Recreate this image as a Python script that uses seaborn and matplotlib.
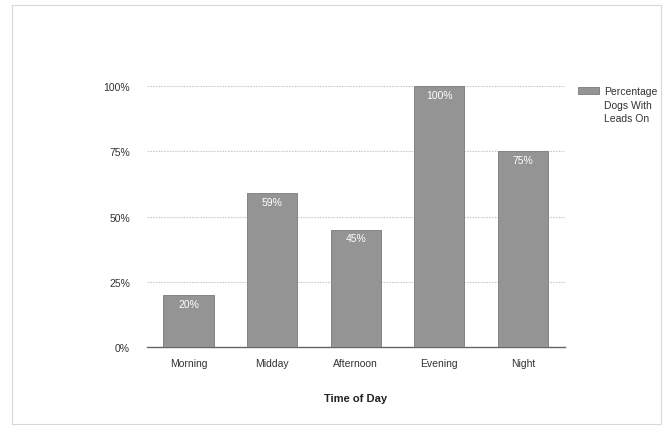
from matplotlib import pyplot as plt
from matplotlib.patches import Rectangle
from matplotlib.container import BarContainer
from matplotlib.legend_handler import HandlerPatch
import pandas as pd
import seaborn as sns

# data
times = ["Morning", "Midday", "Afternoon", "Evening", "Night"]
percent_leads = [20, 59, 45, 100, 75]
y_ticks = [0, 25, 50, 75, 100]

df = pd.DataFrame({"Time of Day": times, "Percentage Dogs With Leads On": percent_leads})

sns.set_theme(style="white")
plt.rcParams['font.family'] = ['Liberation Sans', 'DejaVu Sans']

fig = plt.figure(figsize=(6.7, 4.27), dpi=100)
fig.patch.set_facecolor("white")
ax = fig.add_axes([0.219, 0.185, 0.624, 0.611])

sns.barplot(ax=ax, data=df, x="Time of Day", y="Percentage Dogs With Leads On",
            color="#949494", saturation=1, width=0.6, edgecolor="#7a7a7a", linewidth=0.6,
            label="Percentage\nDogs With\nLeads On", zorder=3)

# value labels inside the bars
for c in ax.containers:
    ax.bar_label(c, labels=[f"{v}%" for v in percent_leads], label_type="edge",
                 padding=-10, color="white", fontsize=7.5)

ax.set_xlim(-0.5, 4.5)
ax.set_ylim(0, 100)
ax.set_yticks(y_ticks)
ax.set_yticklabels([f"{t}%" for t in y_ticks])
ax.yaxis.grid(True, color="#cccccc", linestyle=(0, (1.5, 1)), linewidth=0.8, zorder=0)
ax.tick_params(axis="both", length=0, labelsize=7.5, colors="#333333", pad=8)
ax.tick_params(axis="y", pad=12)
for s in ["top", "right", "left"]:
    ax.spines[s].set_visible(False)
ax.spines["bottom"].set_color("#666666")
ax.spines["bottom"].set_linewidth(1.0)
ax.set_ylabel("")
ax.set_xlabel("Time of Day", fontsize=8, fontweight="bold", labelpad=18, color="#222222")


# legend swatch sits next to the first line of the label
def top_swatch(legend, orig_handle, xdescent, ydescent, width, height, fontsize):
    return Rectangle((-xdescent, -ydescent + 10.5), width, height)


def first_bar(legend_handle, orig_handle):
    legend_handle.update_from(orig_handle.patches[0])


leg = ax.legend(loc="upper left", bbox_to_anchor=(1.031, 1.0), frameon=False, fontsize=7.5,
                borderpad=0, borderaxespad=0, handlelength=2.0, handleheight=0.8,
                handletextpad=0.5, labelcolor="#333333",
                handler_map={BarContainer: HandlerPatch(patch_func=top_swatch,
                                                        update_func=first_bar)})
leg.get_texts()[0].set_linespacing(1.45)

# light frame around the chart image
fig.patches.append(Rectangle((0.018, 0.005), 0.968, 0.982, transform=fig.transFigure,
                             fill=False, edgecolor="#d8d8d8", linewidth=0.8))

plt.savefig("out.png", dpi=100)
